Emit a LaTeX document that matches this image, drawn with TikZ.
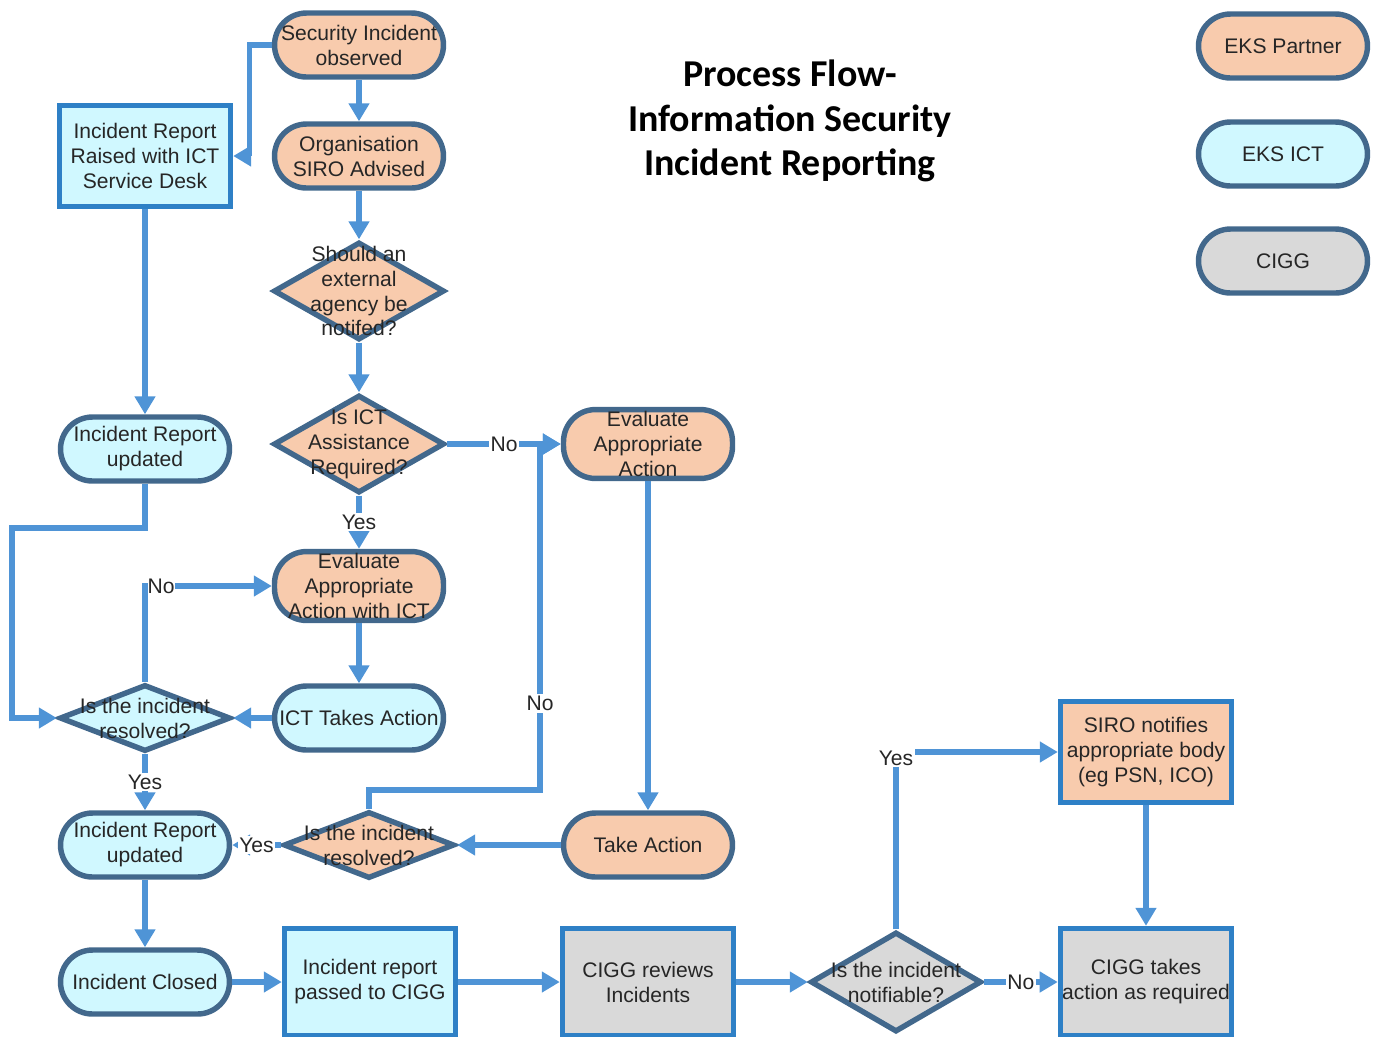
\documentclass[tikz,border=0pt]{standalone}
\usepackage{fontspec}
\setmainfont{Liberation Sans}
\newfontfamily\titlefont{Carlito}
\usepackage{tikz}
\usetikzlibrary{shapes.geometric, arrows.meta, positioning}

\definecolor{partnerfill}{RGB}{248,203,173}
\definecolor{ictfill}{RGB}{208,248,255}
\definecolor{ciggfill}{RGB}{217,217,217}
\definecolor{nodeline}{RGB}{66,104,140}
\definecolor{boxline}{RGB}{46,128,198}
\definecolor{flowline}{RGB}{79,148,214}

\begin{document}
\begin{tikzpicture}[x=0.02cm, y=-0.02cm,
  term/.style={draw=nodeline, line width=3.1pt, rounded corners=0.64cm, minimum width=3.38cm, minimum height=1.28cm, inner sep=1pt, align=center, text=black!85, font=\fontsize{12}{14.2}\selectfont, fill=#1},
  box/.style={draw=boxline, line width=3.1pt, minimum width=3.42cm, minimum height=2.03cm, inner sep=1pt, align=center, text=black!85, font=\fontsize{12}{14.2}\selectfont, fill=#1},
  decision/.style={diamond, draw=nodeline, line width=3.1pt, inner sep=0pt, minimum width=3.42cm, fill=#1},
  txt/.style={align=center, text=black!85, font=\fontsize{12}{14.2}\selectfont},
  lbl/.style={fill=white, inner sep=1pt, text=black!85, font=\fontsize{12}{14.2}\selectfont},
  arr/.style={-{Triangle[width=0.4cm, length=0.36cm]}, draw=flowline, line width=3pt}
]
\useasboundingbox (0,0) rectangle (1373,1036);

% title and key
\node[font=\titlefont\bfseries\fontsize{21.6}{25.5}\selectfont, align=center] (title) at (790,121) {Process Flow-\\Information Security\\Incident Reporting};
\node[term=partnerfill] (legpartner) at (1283,46) {EKS Partner};
\node[term=ictfill] (legict) at (1283,154) {EKS ICT};
\node[term=ciggfill] (legcigg) at (1283,261) {CIGG};

% partner column
\node[term=partnerfill] (sec) at (359,45) {Security Incident\\observed};
\node[term=partnerfill] (siro) at (359,156) {Organisation\\SIRO Advised};
\node[decision=partnerfill, minimum height=1.96cm, label={[txt]center:Should an\\external\\agency be\\notifed?}] (ext) at (359,291) {};
\node[decision=partnerfill, minimum height=1.96cm, label={[txt]center:Is ICT\\Assistance\\Required?}] (ictq) at (359,444) {};
\node[term=partnerfill] (evalict) at (359,586) {Evaluate\\Appropriate\\Action with ICT};
\node[term=ictfill] (ictact) at (359,718) {ICT Takes Action};
\node[decision=partnerfill, minimum height=1.34cm, label={[txt]center:Is the incident\\resolved?}] (res2) at (369,845) {};
\node[term=partnerfill] (evalact) at (648,444) {Evaluate\\Appropriate\\Action};
\node[term=partnerfill] (take) at (648,845) {Take Action};

% ICT column
\node[box=ictfill] (report) at (145,156) {Incident Report\\Raised with ICT\\Service Desk};
\node[term=ictfill] (upd1) at (145,449) {Incident Report\\updated};
\node[decision=ictfill, minimum height=1.34cm, label={[txt]center:Is the incident\\resolved?}] (res1) at (145,718) {};
\node[term=ictfill] (upd2) at (145,845) {Incident Report\\updated};
\node[term=ictfill] (closed) at (145,982) {Incident Closed};

% bottom row
\node[box=ictfill, minimum height=2.14cm] (passed) at (370,982) {Incident report\\passed to CIGG};
\node[box=ciggfill, minimum height=2.14cm] (review) at (648,982) {CIGG reviews\\Incidents};
\node[decision=ciggfill, minimum height=2cm, label={[txt]center:Is the incident\\notifiable?}] (notif) at (896,982) {};
\node[box=partnerfill] (notify) at (1146,752) {SIRO notifies\\appropriate body\\(eg PSN, ICO)};
\node[box=ciggfill, minimum height=2.14cm] (ciggact) at (1146,982) {CIGG takes\\action as required};

\draw[arr] (sec) -- (siro);
\draw[arr] (sec.west) -- ++(-22,0) |- (report.east);
\draw[arr] (siro) -- (ext);
\draw[arr] (ext) -- (ictq);
\draw[arr] (report) -- (upd1);
\draw[arr] (ictq.east) -- node[lbl]{No} (evalact.west);
\draw[arr] (ictq.south) -- node[lbl]{Yes} (evalict.north);
\draw[arr] (evalict) -- (ictact);
\draw[arr] (ictact.west) -- (res1.east);
\draw[arr] (upd1.south) |- (12,528) |- (res1.west);
\draw[arr] (res1.north) |- node[lbl, pos=0.5, anchor=west, inner sep=0pt]{No} (evalict.west);
\draw[arr] (res1.south) -- node[lbl]{Yes} (upd2.north);
\draw[arr] (res2.west) -- node[lbl]{Yes} (upd2.east);
\draw[arr] (evalact) -- (take);
\draw[arr] (take.west) -- (res2.east);
\draw[arr] (res2.north) |- (540,790) -- node[lbl, pos=0.25]{No} (540,444) -- (evalact.west);
\draw[arr] (upd2) -- (closed);
\draw[arr] (closed) -- (passed);
\draw[arr] (passed) -- (review);
\draw[arr] (review) -- (notif);
\draw[arr] (notif.north) |- node[lbl, pos=0.5, yshift=-0.12cm]{Yes} (notify.west);
\draw[arr] (notif.east) -- node[lbl]{No} (ciggact.west);
\draw[arr] (notify) -- (ciggact);

\end{tikzpicture}
\end{document}
